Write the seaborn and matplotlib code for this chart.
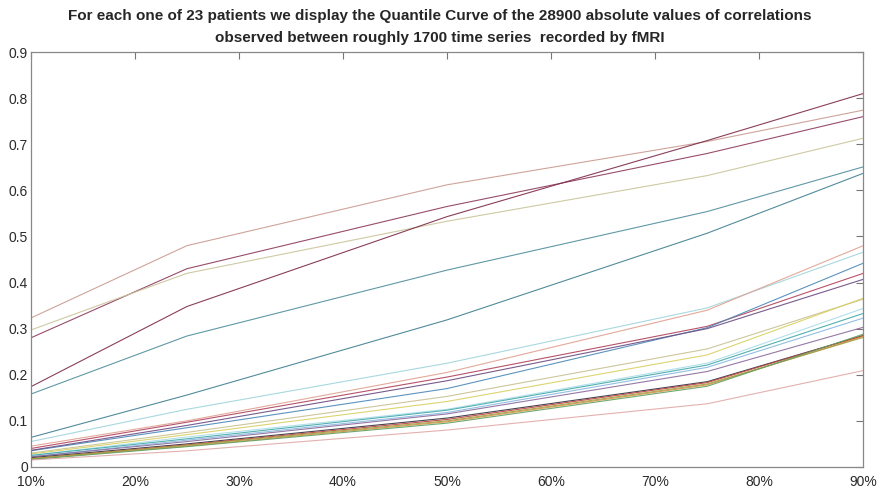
import numpy as np
import pandas as pd
import matplotlib
matplotlib.use("Agg")
import matplotlib.pyplot as plt
import seaborn as sns

quantiles = [10, 25, 50, 75, 90]
xtick_vals = [10, 20, 30, 40, 50, 60, 70, 80, 90]
xtick_labels = ["10%", "20%", "30%", "40%", "50%", "60%", "70%", "80%", "90%"]
ytick_vals = [0, 0.1, 0.2, 0.3, 0.4, 0.5, 0.6, 0.7, 0.8, 0.9]
ytick_labels = ["0", "0.1", "0.2", "0.3", "0.4", "0.5", "0.6", "0.7", "0.8", "0.9"]

p01 = [0.323, 0.480, 0.612, 0.706, 0.774]
p02 = [0.280, 0.430, 0.565, 0.680, 0.760]
p03 = [0.297, 0.420, 0.533, 0.632, 0.713]
p04 = [0.174, 0.348, 0.543, 0.708, 0.810]
p05 = [0.158, 0.284, 0.427, 0.554, 0.651]
p06 = [0.064, 0.156, 0.319, 0.507, 0.637]
p07 = [0.055, 0.125, 0.225, 0.345, 0.466]
p08 = [0.045, 0.100, 0.205, 0.340, 0.480]
p09 = [0.040, 0.097, 0.195, 0.305, 0.420]
p10 = [0.035, 0.085, 0.170, 0.302, 0.442]
p11 = [0.036, 0.090, 0.187, 0.300, 0.407]
p12 = [0.030, 0.075, 0.153, 0.256, 0.364]
p13 = [0.028, 0.070, 0.142, 0.243, 0.366]
p14 = [0.025, 0.065, 0.125, 0.225, 0.344]
p15 = [0.025, 0.061, 0.123, 0.221, 0.333]
p16 = [0.022, 0.058, 0.118, 0.216, 0.323]
p17 = [0.022, 0.055, 0.115, 0.207, 0.303]
p18 = [0.020, 0.050, 0.106, 0.185, 0.285]
p19 = [0.018, 0.048, 0.103, 0.183, 0.285]
p20 = [0.017, 0.045, 0.098, 0.178, 0.283]
p21 = [0.018, 0.047, 0.100, 0.180, 0.281]
p22 = [0.016, 0.044, 0.095, 0.175, 0.288]
p23 = [0.015, 0.035, 0.080, 0.137, 0.209]

patients = [p01, p02, p03, p04, p05, p06, p07, p08, p09, p10, p11, p12,
            p13, p14, p15, p16, p17, p18, p19, p20, p21, p22, p23]

colors = ["#c99a90", "#8c3a5c", "#c9c49a", "#7d2a48", "#4f8d9c", "#3f7f90",
          "#9fd4dc", "#e0a090", "#b0405a", "#4a88b8", "#6a4a80", "#c8c090",
          "#d8d060", "#a8dce8", "#40a8a8", "#88b8e0", "#8a6a9c", "#303040",
          "#c04040", "#e09040", "#a0a040", "#60a060", "#e0a8a8"]

rows = []
for i, vals in enumerate(patients):
    for q, v in zip(quantiles, vals):
        rows.append({"patient": f"P{i+1}", "quantile": q, "value": v})
df = pd.DataFrame(rows)

sns.set_style("white")
plt.rcParams["font.family"] = ["Liberation Sans", "DejaVu Sans"]

fig = plt.figure(figsize=(8.8, 4.91), dpi=100)
ax = fig.add_axes([0.035, 0.049, 0.946, 0.845])

sns.lineplot(data=df, x="quantile", y="value", hue="patient",
             palette=colors, linewidth=0.8, legend=False, ax=ax, alpha=0.9)

ax.set_xlim(10, 90)
ax.set_ylim(0, 0.9)
ax.set_xticks(xtick_vals)
ax.set_xticklabels(xtick_labels)
ax.set_yticks(ytick_vals)
ax.set_yticklabels(ytick_labels)
ax.set_xlabel("")
ax.set_ylabel("")
ax.tick_params(direction="in", length=5, width=0.8, color="#777777",
               labelsize=10, labelcolor="#2a2a2a", top=True, right=True)
ax.tick_params(axis="x", pad=6)
ax.tick_params(axis="y", pad=2)
for s in ax.spines.values():
    s.set_color("#888888")
    s.set_linewidth(0.9)
    s.set_visible(True)

fig.suptitle("For each one of 23 patients we display the Quantile Curve of the 28900 absolute values of correlations\n"
             "observed between roughly 1700 time series  recorded by fMRI",
             fontsize=11, fontweight="bold", y=0.982, linespacing=1.75)

fig.savefig("out.png", dpi=100)
